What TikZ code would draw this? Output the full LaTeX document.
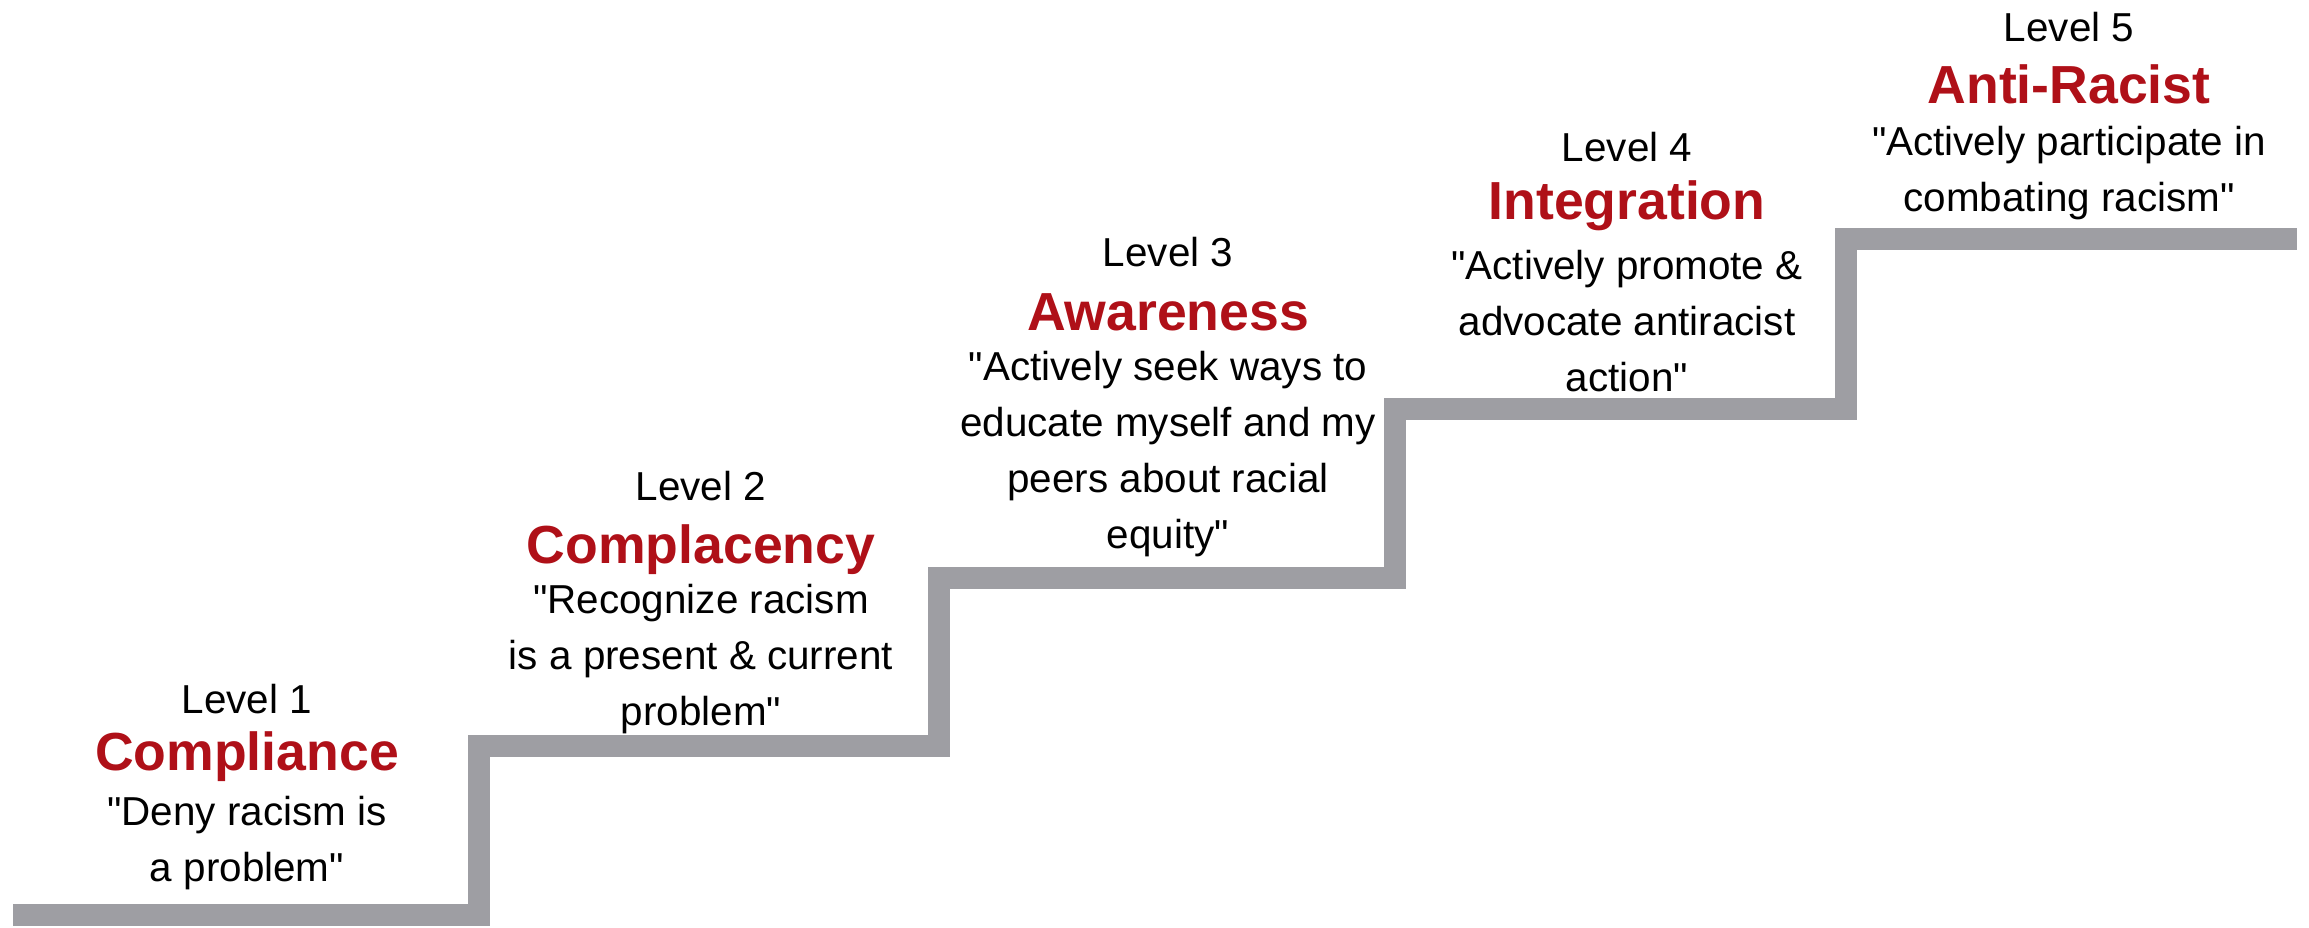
\documentclass[tikz,border=0pt]{standalone}
\usepackage{fontspec}
\setmainfont{Liberation Sans}[Ligatures=TeXOff]
\definecolor{stairgray}{RGB}{158,158,163}
\definecolor{lvlred}{RGB}{175,16,24}
\begin{document}
\begin{tikzpicture}[x=0.02cm,y=-0.02cm,
  stair/.style={draw=stairgray,line width=0.44cm,line join=miter,line cap=butt},
  lvl/.style={font=\fontsize{23}{28}\selectfont,inner sep=0pt,anchor=center},
  ttl/.style={font=\fontsize{30.5}{34}\bfseries\selectfont,text=lvlred,inner sep=0pt,anchor=center},
  quote/.style={font=\fontsize{23}{31.8}\selectfont,inner sep=0pt,align=center,anchor=center}]
\useasboundingbox (0,0) rectangle (2309,927);
% stair corners
\coordinate (s0) at (13,915);
\coordinate (s1) at (479,915);
\coordinate (s2) at (479,746);
\coordinate (s3) at (938.5,746);
\coordinate (s4) at (938.5,578);
\coordinate (s5) at (1394.5,578);
\coordinate (s6) at (1394.5,408.5);
\coordinate (s7) at (1846,408.5);
\coordinate (s8) at (1846,239);
\coordinate (s9) at (2297,239);
\draw[stair] (s0) -- (s1) -- (s2) -- (s3) -- (s4) -- (s5) -- (s6) -- (s7) -- (s8) -- (s9);
% Level 1
\node[lvl] (lv1) at (247,699) {Level 1};
\node[ttl] (t1) at (247,757) {Compliance};
\node[quote] (q1) at (247,843) {"Deny racism is\\a problem"};
% Level 2
\node[lvl] (lv2) at (701,486) {Level 2};
\node[ttl] (t2) at (701,550) {Complacency};
\node[quote] (q2) at (701,659) {"Recognize racism\\is a present \& current\\problem"};
% Level 3
\node[lvl] (lv3) at (1168,252) {Level 3};
\node[ttl] (t3) at (1168,312) {Awareness};
\node[quote] (q3) at (1168,454) {"Actively seek ways to\\educate myself and my\\peers about racial\\equity"};
% Level 4
\node[lvl] (lv4) at (1627,147) {Level 4};
\node[ttl] (t4) at (1627,206) {Integration};
\node[quote] (q4) at (1627,321) {"Actively promote \&\\advocate antiracist\\action"};
% Level 5
\node[lvl] (lv5) at (2069,27) {Level 5};
\node[ttl] (t5) at (2069,84) {Anti-Racist};
\node[quote] (q5) at (2069,173) {"Actively participate in\\combating racism"};
\end{tikzpicture}
\end{document}
